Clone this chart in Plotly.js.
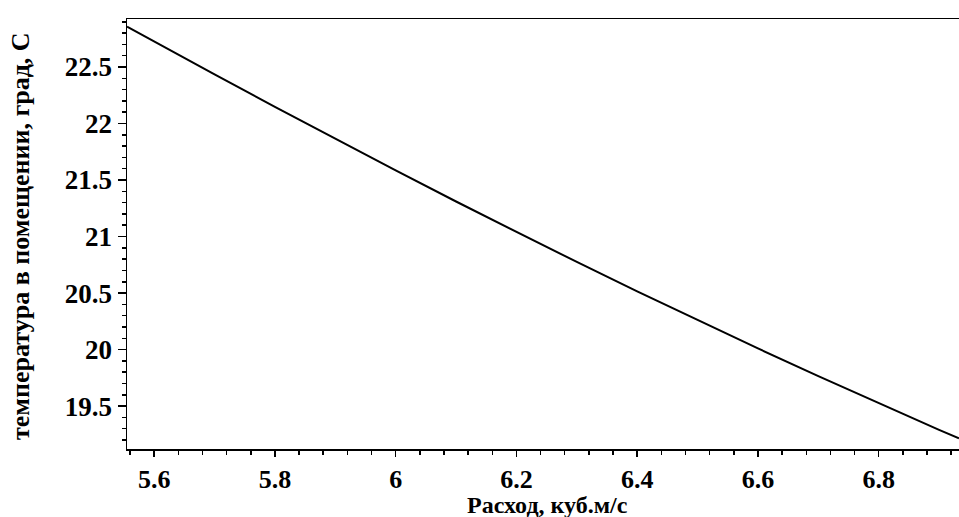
<!DOCTYPE html>
<html>
<head>
<meta charset="utf-8">
<script src="https://cdn.plot.ly/plotly-3.0.1.min.js"></script>
<style>html,body{margin:0;padding:0;background:#fff;}#chart{width:959px;height:517px;}</style>
</head>
<body>
<div id="chart"></div>
<script>
const flow = [5.555, 5.6, 5.7, 5.8, 5.9, 6.0, 6.1, 6.2, 6.3, 6.4, 6.5, 6.6, 6.7, 6.8, 6.9, 6.933];
const temperature = [22.857, 22.725, 22.435, 22.148, 21.865, 21.585, 21.31, 21.04, 20.775, 20.515, 20.26, 20.01, 19.765, 19.525, 19.29, 19.215];
const xTitle = "Расход, куб.м/с";
const yTitle = "температура в помещении, град, С";

const fontFam = "Liberation Serif, Times New Roman, serif";
const trace = {
  x: flow, y: temperature, type: "scatter", mode: "lines",
  line: {color: "#000", width: 2},
  hoverinfo: "none"
};
const layout = {
  width: 959, height: 517,
  margin: {l: 127, r: 0, t: 19, b: 68},
  paper_bgcolor: "#fff", plot_bgcolor: "#fff",
  showlegend: false,
  xaxis: {
    range: [5.555, 6.933], tick0: 5.6, dtick: 0.2,
    showgrid: false, zeroline: false,
    showline: true, linecolor: "#000", linewidth: 1.5, mirror: true,
    ticks: "outside", ticklen: 6, tickwidth: 1.5, tickcolor: "#000",
    minor: {dtick: 0.04, ticks: "outside", ticklen: 4, tickwidth: 1.5, tickcolor: "#000", showgrid: false},
    tickfont: {family: fontFam, size: 26, weight: "bold", color: "#000"},
    tickformat: "~g",
    automargin: false
  },
  yaxis: {
    range: [19.12, 22.925], tick0: 19.5, dtick: 0.5,
    showgrid: false, zeroline: false,
    showline: true, linecolor: "#000", linewidth: 1.5,
    ticks: "outside", ticklen: 8, tickwidth: 1.5, tickcolor: "#000",
    minor: {dtick: 0.1, ticks: "outside", ticklen: 4, tickwidth: 1.5, tickcolor: "#000", showgrid: false},
    tickfont: {family: fontFam, size: 27, weight: "bold", color: "#000"},
    tickformat: "~g",
    automargin: false
  },
  annotations: [
    {text: xTitle, xref: "paper", yref: "paper", x: 0.5, y: 0, xanchor: "center", yanchor: "middle",
     xshift: 4, yshift: -56, showarrow: false, font: {family: fontFam, size: 24, weight: "bold", color: "#000"}},
    {text: yTitle, xref: "paper", yref: "paper", x: 0, y: 0.5, xanchor: "center", yanchor: "middle",
     xshift: -107, yshift: -2, textangle: -90, showarrow: false, font: {family: fontFam, size: 26, weight: "bold", color: "#000"}}
  ]
};
Plotly.newPlot("chart", [trace], layout, {displayModeBar: false, staticPlot: true});
</script>
</body>
</html>
